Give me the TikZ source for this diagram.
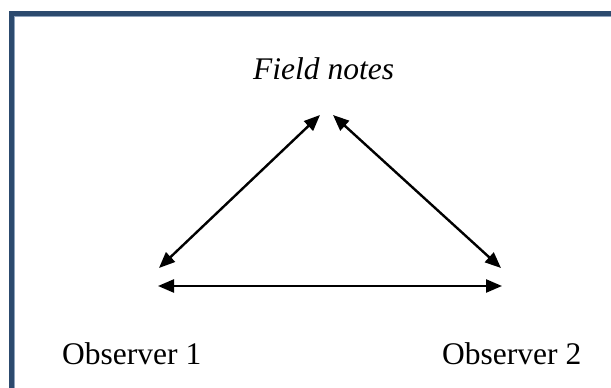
\documentclass[tikz,border=0pt]{standalone}
\usepackage{fontspec}
\setmainfont{Liberation Serif}
\usetikzlibrary{arrows.meta}
\definecolor{frameblue}{HTML}{2C4A6E}
\definecolor{framelight}{HTML}{8FA3BC}
\tikzset{
  lbl/.style={inner sep=0pt, font=\fontsize{31.5}{36}\selectfont},
  link/.style={line width=2.4pt, {Triangle[length=16pt,width=13pt]}-{Triangle[length=16pt,width=13pt]}},
}
\begin{document}
\begin{tikzpicture}[x=1pt,y=-1pt]
\useasboundingbox (0,0) rectangle (611,388);
\fill[white] (0,0) rectangle (611,388);
\draw[frameblue, line width=5pt] (11.5,400) -- (11.5,13.5) -- (620,13.5);
\draw[framelight, line width=0.8pt] (14.4,400) -- (14.4,16.4) -- (620,16.4);
\node[lbl, anchor=base west] (fn) at (253,79) {\itshape Field notes};
\node[lbl, anchor=base west] (o1) at (62,364) {Observer 1};
\node[lbl, anchor=base west] (o2) at (442,364) {Observer 2};
\coordinate (tl) at (320,115);
\coordinate (tr) at (333,115);
\coordinate (bl) at (159,268);
\coordinate (br) at (501,268);
\coordinate (hl) at (158,286);
\coordinate (hr) at (502,286);
\draw[link] (bl) -- (tl);
\draw[link] (tr) -- (br);
\draw[link] (hl) -- (hr);
\end{tikzpicture}
\end{document}
